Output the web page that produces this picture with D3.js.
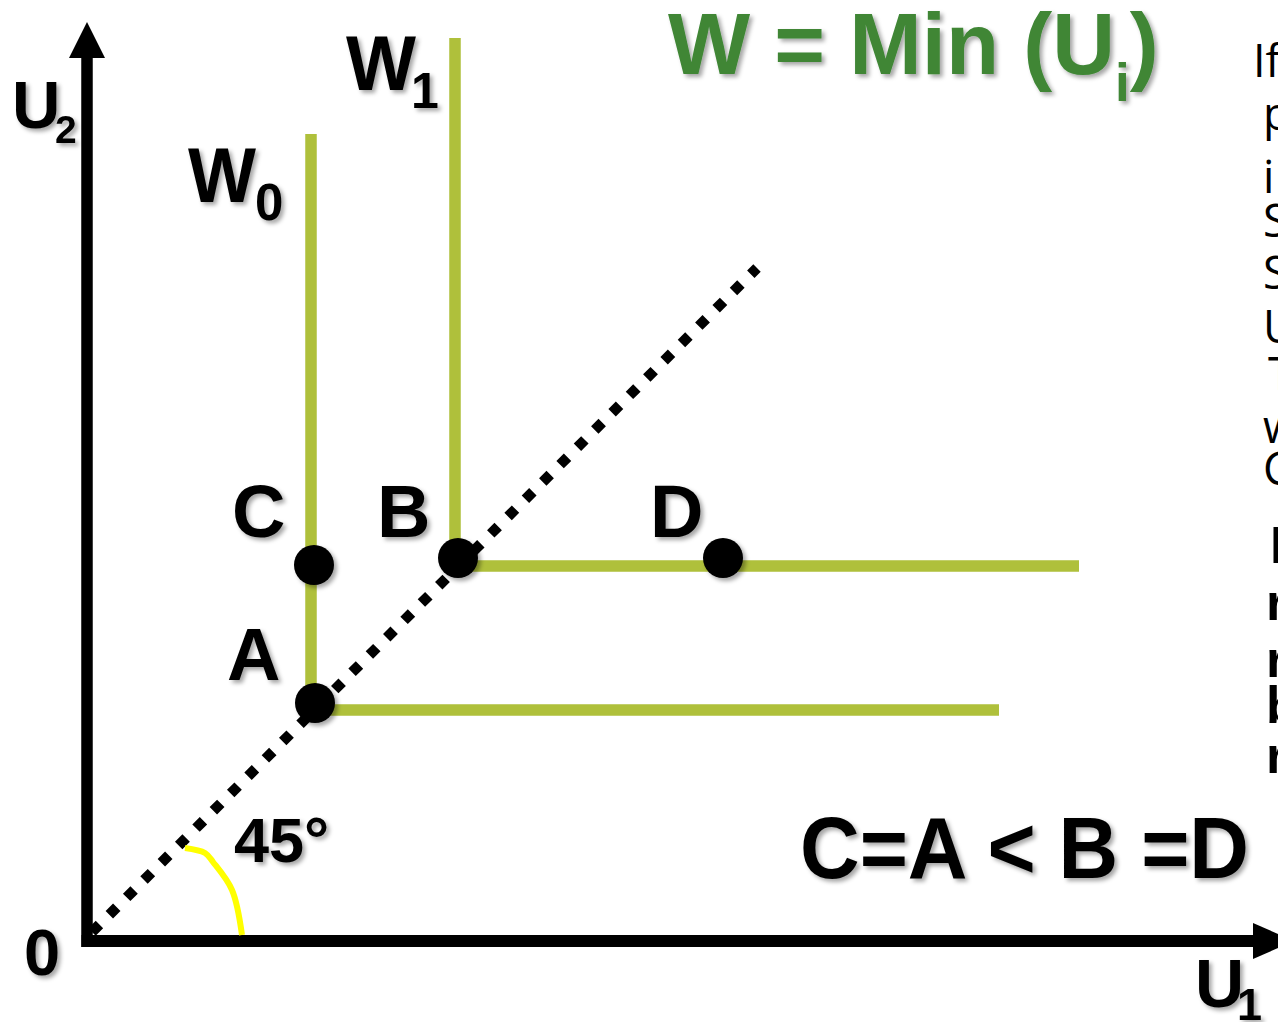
<!DOCTYPE html>
<html><head><meta charset="utf-8">
<script src="https://cdn.jsdelivr.net/npm/d3@7"></script>
<style>html,body{margin:0;padding:0;background:#fff;overflow:hidden}</style>
</head><body>
<script>
// ---- data (utility units) ----
const pointNames = ["A", "B", "C", "D"];
const pointU1 = [22.8, 37.1, 22.7, 63.6];
const pointU2 = [23.8, 38.3, 37.6, 38.3];
const curveNames = ["W0", "W1"];
const curveKinkU1 = [22.4, 36.8];
const curveKinkU2 = [23.1, 37.5];
const curveTopU2 = [80.7, 90.3];
const curveEndU1 = [91.2, 99.2];
const diagonalU1 = [0.5, 67.0];
const diagonalU2 = [0.9, 67.3];
const arcU1 = [9.8, 11.8, 12.6, 14.5, 15.5];
const arcU2 = [9.3, 8.8, 7.9, 5.1, 0.6];
const axisMaxU1 = 117.1;
const axisMaxU2 = 88.3;
const sideText1 = ["If", "p", "i", "S", "S", "U", "T", "w", "C"];
const sideText2 = ["I", "r", "r", "b", "r"];

// ---- layout ----
const W = 1278, H = 1022;
const svg = d3.select("body").append("svg").attr("width", W).attr("height", H)
  .style("display", "block").style("font-family", "'Liberation Sans', Arial, sans-serif");

const defs = svg.append("defs");
const f = defs.append("filter").attr("id", "sh").attr("x", "-30%").attr("y", "-30%").attr("width", "170%").attr("height", "170%");
f.append("feDropShadow").attr("dx", 3).attr("dy", 3).attr("stdDeviation", 2.2)
  .attr("flood-color", "#000").attr("flood-opacity", 0.35);

const x = d3.scaleLinear().domain([0, 100]).range([87, 1087]);
const y = d3.scaleLinear().domain([0, 100]).range([941, -59]);

const GREEN_LINE = "#afc03b";
const TITLE_GREEN = "#3f8636";

// axes
const axes = svg.append("g");
axes.append("line").attr("x1", x(0)).attr("x2", x(0)).attr("y1", y(0) + 6).attr("y2", y(axisMaxU2))
  .attr("stroke", "#000").attr("stroke-width", 11.5);
axes.append("line").attr("x1", x(0) - 5.5).attr("x2", x(axisMaxU1)).attr("y1", y(0)).attr("y2", y(0))
  .attr("stroke", "#000").attr("stroke-width", 12);
axes.append("path").attr("fill", "#000")
  .attr("d", `M${x(0)},${y(axisMaxU2) - 36} L${x(0) - 18},${y(axisMaxU2)} L${x(0) + 18},${y(axisMaxU2)} Z`);
axes.append("path").attr("fill", "#000")
  .attr("d", `M${x(axisMaxU1) + 36},${y(0)} L${x(axisMaxU1) - 5},${y(0) - 18} L${x(axisMaxU1) - 5},${y(0) + 18} Z`);

// Rawlsian L-shaped indifference curves
const lineGen = d3.line().x(d => x(d[0])).y(d => y(d[1]));
curveNames.forEach((n, i) => {
  svg.append("path").attr("class", "curve-" + n)
    .attr("d", lineGen([[curveKinkU1[i], curveTopU2[i]], [curveKinkU1[i], curveKinkU2[i]], [curveEndU1[i], curveKinkU2[i]]]))
    .attr("fill", "none").attr("stroke", GREEN_LINE).attr("stroke-width", 11.5).attr("stroke-linejoin", "miter");
});

// 45 degree dotted line
svg.append("path")
  .attr("d", lineGen([[diagonalU1[0], diagonalU2[0]], [diagonalU1[1], diagonalU2[1]]]))
  .attr("fill", "none").attr("stroke", "#000").attr("stroke-width", 10.5)
  .attr("stroke-dasharray", "10.5 14");

// yellow angle arc
svg.append("path")
  .attr("d", d3.line().x(d => x(d[0])).y(d => y(d[1])).curve(d3.curveCatmullRom)(arcU1.map((u, i) => [u, arcU2[i]])))
  .attr("fill", "none").attr("stroke", "#ffff00").attr("stroke-width", 6).attr("stroke-linecap", "butt");

// points
svg.append("g").selectAll("circle").data(pointNames).join("circle")
  .attr("cx", (d, i) => x(pointU1[i])).attr("cy", (d, i) => y(pointU2[i])).attr("r", 20)
  .attr("fill", "#000").attr("filter", "url(#sh)");

// labels
const lab = svg.append("g").attr("font-weight", "bold").attr("fill", "#000").attr("filter", "url(#sh)");
function t(txt, px, py, size, len) {
  const e = lab.append("text").attr("x", px).attr("y", py).attr("font-size", size).text(txt);
  if (len) e.attr("textLength", len).attr("lengthAdjust", "spacingAndGlyphs");
  return e;
}
t("U", 12, 128, 67);
t("2", 55, 143, 39);
t("W", 188, 202, 77, 68);
t("0", 255, 220, 51);
t("W", 346, 90, 77, 70);
t("1", 411, 108, 50);
t("C", 232, 537, 74);
t("B", 377, 537, 74);
t("D", 650, 537, 74);
t("A", 227, 680, 74);
t("45°", 234, 862, 63);
t("0", 24, 975, 65);
t("C=A < B =D", 800, 878, 88, 449);
t("U", 1195, 1007, 68);
t("1", 1237, 1020, 45);

// title
const title = svg.append("text").attr("x", 668).attr("y", 74).attr("font-size", 87)
  .attr("font-weight", "bold").attr("fill", TITLE_GREEN).attr("filter", "url(#sh)");
title.append("tspan").text("W = Min (U");
title.append("tspan").attr("font-size", 53).attr("dy", 27).text("i");
title.append("tspan").attr("dy", -27).text(")");

// clipped side paragraph
const side1Base = [77, 130, 193, 237, 289, 343, 390, 443, 485];
const side1X = [1253, 1263, 1263, 1263, 1263, 1263, 1268, 1263, 1263];
const side2Base = [563, 620, 677, 723, 773];
svg.append("g").attr("font-family", "'Open Sans', 'Noto Sans', sans-serif").attr("font-size", 45)
  .selectAll("text").data(sideText1).join("text")
  .attr("x", (d, i) => side1X[i]).attr("y", (d, i) => side1Base[i]).text(d => d);
svg.append("g").attr("font-family", "'Liberation Sans Narrow', 'Arial Narrow', 'Liberation Sans', sans-serif")
  .attr("font-size", 52).attr("font-weight", "bold")
  .selectAll("text").data(sideText2).join("text")
  .attr("x", (d, i) => i === 0 ? 1270 : 1266).attr("y", (d, i) => side2Base[i]).text(d => d);
</script>
</body></html>
